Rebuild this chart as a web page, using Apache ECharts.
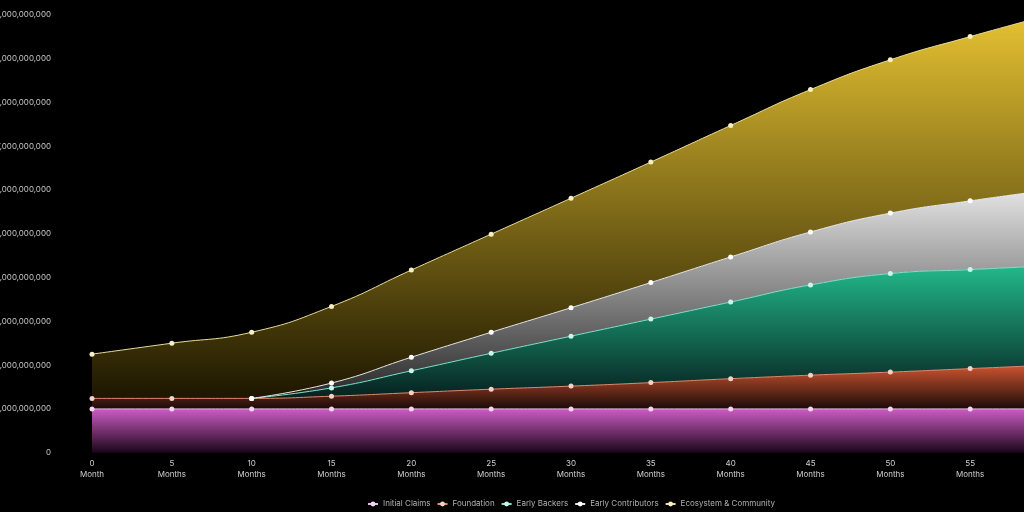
<!DOCTYPE html>
<html>
<head>
<meta charset="utf-8">
<script src="https://cdn.jsdelivr.net/npm/echarts@6/dist/echarts.min.js"></script>
<style>
html,body{margin:0;padding:0;background:#000;}
#chart{width:1024px;height:512px;}
</style>
</head>
<body>
<div id="chart"></div>
<script>
// Months (x categories) and tick labels
const months = ['0','5','10','15','20','25','30','35','40','45','50','55','60'];
const monthLabels = ['0\nMonth','5\nMonths','10\nMonths','15\nMonths','20\nMonths','25\nMonths','30\nMonths','35\nMonths','40\nMonths','45\nMonths','50\nMonths','55\nMonths','60\nMonths'];

// Series values (tokens), stacked
const initialClaims = [1.0e9,1.0e9,1.0e9,1.0e9,1.0e9,1.0e9,1.0e9,1.0e9,1.0e9,1.0e9,1.0e9,1.0e9,1.0e9];
const foundation = [0.24e9,0.24e9,0.24e9,0.29e9,0.37e9,0.45e9,0.52e9,0.60e9,0.69e9,0.77e9,0.84e9,0.92e9,1.0e9];
const earlyBackers = ['-','-',0,0.19e9,0.50e9,0.82e9,1.14e9,1.45e9,1.75e9,2.06e9,2.25e9,2.26e9,2.27e9];
const earlyContributors = ['-','-',0,0.11e9,0.31e9,0.48e9,0.65e9,0.835e9,1.03e9,1.21e9,1.38e9,1.57e9,1.73e9];
const ecosystem = [1.01e9,1.26e9,1.51e9,1.75e9,1.99e9,2.24e9,2.50e9,2.75e9,3.00e9,3.25e9,3.50e9,3.75e9,4.00e9];

const seriesNames = ['Initial Claims','Foundation','Early Backers','Early Contributors','Ecosystem & Community'];

function grad(top, bottom){
  return new echarts.graphic.LinearGradient(0,0,0,1,[{offset:0,color:top},{offset:1,color:bottom}]);
}

const styles = [
  {line:'#e9b8e6', area:grad('#cc5cc4','#1a0618')},
  {line:'#e08a70', area:grad('#cc5530','#1c0a08')},
  {line:'#7fe3cc', area:grad('#22b98a','#06201f')},
  {line:'#e8e8e8', area:grad('#e4e4e4','#262626')},
  {line:'#e6dc98', area:grad('#e6c232','#1c1600')}
];
const markerColors = ['#f4d6f2','#f6d0c4','#c8f6ee','#ffffff','#f6efc4'];
const dataSets = [initialClaims, foundation, earlyBackers, earlyContributors, ecosystem];

const chart = echarts.init(document.getElementById('chart'));
chart.setOption({
  backgroundColor:'#000',
  animation:false,
  textStyle:{fontFamily:'Inter, "Noto Sans", sans-serif'},
  grid:{left:92,right:-26,top:14.7,bottom:59.3,containLabel:false,outerBoundsMode:'none'},
  legend:{
    data:seriesNames,
    left:362, top:495,
    itemWidth:10, itemHeight:6, itemGap:6,
    textStyle:{color:'#b0b0b0',fontSize:8}
  },
  xAxis:{
    type:'category',
    data:monthLabels,
    boundaryGap:false,
    axisLine:{show:false},
    axisTick:{show:false},
    axisLabel:{color:'#cfcfcf',fontSize:8,lineHeight:11,margin:5,interval:0}
  },
  yAxis:{
    type:'value',
    min:0,max:10e9,interval:1e9,
    splitLine:{show:false},
    axisLine:{show:false},
    axisTick:{show:false},
    axisLabel:{color:'#c8c8c8',fontSize:8,margin:41}
  },
  series: seriesNames.map((name,i)=>({
    name:name,
    type:'line',
    stack:'total',
    smooth:true,
    data:dataSets[i],
    symbol:'circle',
    symbolSize:5,
    showSymbol:true,
    itemStyle:{color:markerColors[i]},
    lineStyle:{color:styles[i].line,width:1},
    areaStyle:{color:styles[i].area,opacity:1}
  }))
});
</script>
</body>
</html>
